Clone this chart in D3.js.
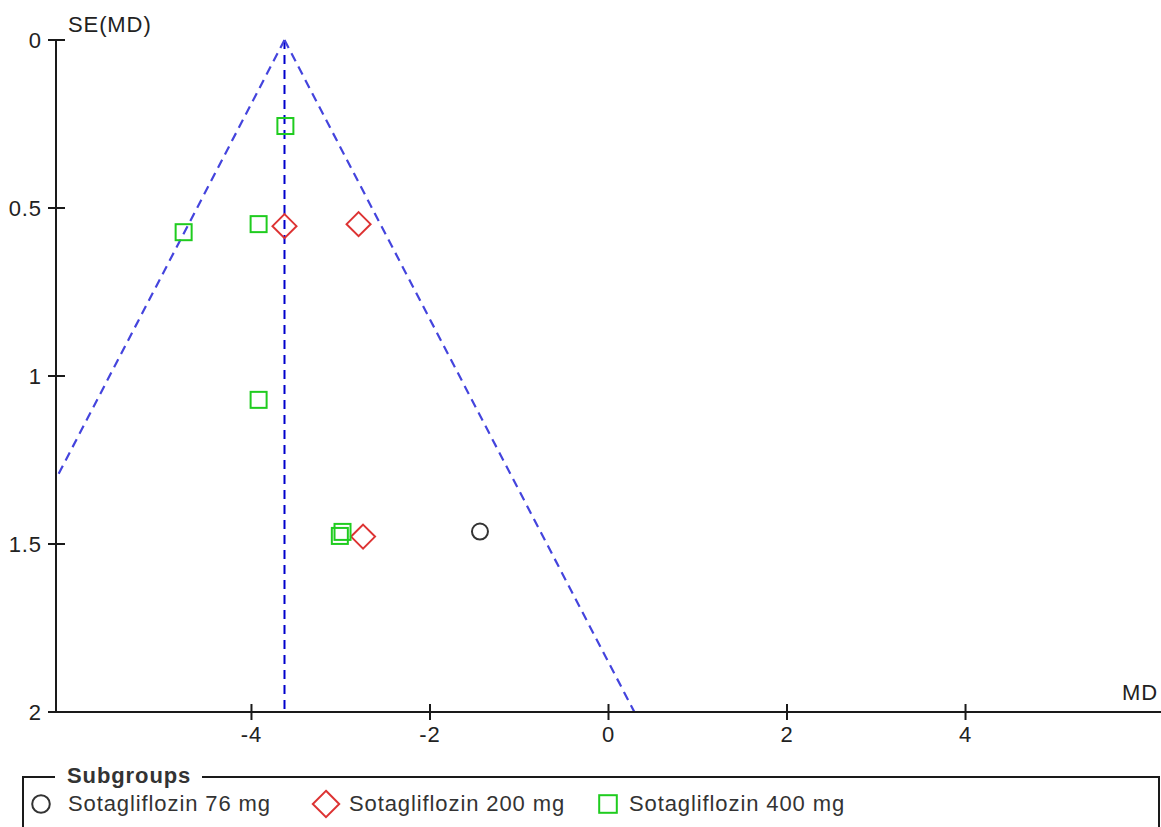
<!DOCTYPE html>
<html>
<head>
<meta charset="utf-8">
<script src="https://cdn.jsdelivr.net/npm/d3@7"></script>
<style>
  html, body { margin: 0; padding: 0; background: #fff; }
  svg { display: block; font-family: "Liberation Sans", Arial, sans-serif; }
  svg text { letter-spacing: 0.9px; }
</style>
</head>
<body>
<svg id="chart" width="1161" height="827"></svg>
<script>
// Funnel plot: mean difference (MD) against its standard error, by subgroup
const subgroups = ["Sotagliflozin 76 mg", "Sotagliflozin 200 mg", "Sotagliflozin 400 mg"];

// study estimates per subgroup: [MD, SE(MD)]
const dose76 = [[-1.44, 1.463]];
const dose200 = [[-3.63, 0.554], [-2.80, 0.548], [-2.75, 1.478]];
const dose400 = [[-3.62, 0.256], [-4.76, 0.572], [-3.92, 0.548], [-3.92, 1.071], [-2.98, 1.464], [-3.01, 1.476]];

// pooled fixed-effect estimate at the funnel apex
const pooledMD = -3.63;

const xTicks = [-4, -2, 0, 2, 4];
const yTicks = [0, 0.5, 1, 1.5, 2];
const xDomain = [-6.19, 6.19];
const yDomain = [0, 2];

const svg = d3.select("#chart");
const plotLeft = 56, plotRight = 1161, plotTop = 40, plotBottom = 712;

const x = d3.scaleLinear().domain(xDomain).range([plotLeft, plotRight]);
const y = d3.scaleLinear().domain(yDomain).range([plotTop, plotBottom]);

const fontSize = 22;
const textColor = "#222";

// plot-area clip for the funnel lines
svg.append("defs").append("clipPath").attr("id", "plotClip")
  .append("rect").attr("x", plotLeft).attr("y", plotTop - 2)
  .attr("width", plotRight - plotLeft).attr("height", plotBottom - plotTop + 2);

// funnel: pooled line and 95% pseudo-confidence limits
const funnel = svg.append("g").attr("clip-path", "url(#plotClip)");
const seMax = yDomain[1];
funnel.append("line")
  .attr("x1", x(pooledMD)).attr("y1", y(0))
  .attr("x2", x(pooledMD)).attr("y2", y(seMax))
  .attr("stroke", "#0000cc").attr("stroke-width", 2)
  .attr("stroke-dasharray", "9,6");
[-1, 1].forEach(s => {
  funnel.append("line")
    .attr("x1", x(pooledMD)).attr("y1", y(0))
    .attr("x2", x(pooledMD + s * 1.96 * seMax)).attr("y2", y(seMax))
    .attr("stroke", "#4444dd").attr("stroke-width", 2.2)
    .attr("stroke-dasharray", "9,6");
});

// axes
const axisG = svg.append("g");
axisG.append("line").attr("x1", plotLeft).attr("x2", plotLeft).attr("y1", plotTop).attr("y2", plotBottom)
  .attr("stroke", "#1a1a1a").attr("stroke-width", 2);
axisG.append("line").attr("x1", plotLeft).attr("x2", plotRight).attr("y1", plotBottom).attr("y2", plotBottom)
  .attr("stroke", "#1a1a1a").attr("stroke-width", 2);

yTicks.forEach(t => {
  axisG.append("line").attr("x1", plotLeft - 8).attr("x2", plotLeft + 9)
    .attr("y1", y(t)).attr("y2", y(t)).attr("stroke", "#1a1a1a").attr("stroke-width", 2);
  axisG.append("text").attr("x", plotLeft - 14).attr("y", y(t))
    .attr("dy", "0.36em").attr("text-anchor", "end")
    .attr("font-size", fontSize).attr("fill", textColor).text(String(t));
});
xTicks.forEach(t => {
  axisG.append("line").attr("x1", x(t)).attr("x2", x(t))
    .attr("y1", plotBottom - 8).attr("y2", plotBottom + 8).attr("stroke", "#1a1a1a").attr("stroke-width", 2);
  axisG.append("text").attr("x", x(t)).attr("y", plotBottom + 30)
    .attr("text-anchor", "middle")
    .attr("font-size", fontSize).attr("fill", textColor).text(String(t));
});

axisG.append("text").attr("x", 68).attr("y", 32)
  .attr("font-size", fontSize).attr("fill", textColor).text("SE(MD)");
axisG.append("text").attr("x", 1158).attr("y", 700).attr("text-anchor", "end")
  .attr("font-size", fontSize).attr("fill", textColor).text("MD");

// marker shapes
const styles = [
  { stroke: "#333333", shape: "circle" },
  { stroke: "#dd3333", shape: "diamond" },
  { stroke: "#1fcc1f", shape: "square" }
];
function drawMarker(g, cx, cy, st, scale) {
  const k = scale || 1;
  if (st.shape === "circle") {
    g.append("circle").attr("cx", cx).attr("cy", cy).attr("r", 8 * k)
      .attr("fill", "none").attr("stroke", st.stroke).attr("stroke-width", 2);
  } else if (st.shape === "diamond") {
    const h = 12 * k;
    g.append("path")
      .attr("d", `M${cx},${cy - h}L${cx + h},${cy}L${cx},${cy + h}L${cx - h},${cy}Z`)
      .attr("fill", "none").attr("stroke", st.stroke).attr("stroke-width", 2);
  } else {
    const h = 8 * k;
    g.append("rect").attr("x", cx - h).attr("y", cy - h).attr("width", 2 * h).attr("height", 2 * h)
      .attr("fill", "none").attr("stroke", st.stroke).attr("stroke-width", 2);
  }
}

const pointsG = svg.append("g");
[dose76, dose200, dose400].forEach((series, i) => {
  series.forEach(d => drawMarker(pointsG, x(d[0]), y(d[1]), styles[i]));
});

// legend box
const legend = svg.append("g");
const lgTop = 777, lgLeft = 23, lgRight = 1159;
legend.append("path")
  .attr("d", `M55,${lgTop}H${lgLeft}V${827 + 5}`)
  .attr("fill", "none").attr("stroke", "#1a1a1a").attr("stroke-width", 2);
legend.append("path")
  .attr("d", `M202,${lgTop}H${lgRight}V${827 + 5}`)
  .attr("fill", "none").attr("stroke", "#1a1a1a").attr("stroke-width", 2);
legend.append("text").attr("x", 67).attr("y", 783)
  .attr("font-size", fontSize).attr("font-weight", "bold").attr("fill", "#333")
  .text("Subgroups");

const legendX = [41, 326, 608];
const legendTextX = [68, 349, 629];
subgroups.forEach((name, i) => {
  drawMarker(legend, legendX[i], 804, styles[i], 1.1);
  legend.append("text").attr("x", legendTextX[i]).attr("y", 811)
    .attr("font-size", fontSize).attr("fill", "#333").text(name);
});
</script>
</body>
</html>
